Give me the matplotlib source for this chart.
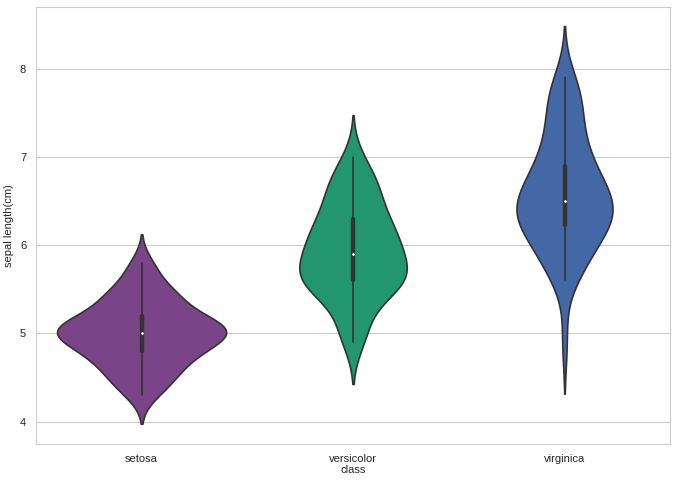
import pandas as pd
import matplotlib
matplotlib.use("Agg")
import matplotlib.pyplot as plt
import seaborn as sns

# -------- DATA (iris sepal length, cm) --------
setosa = [5.1, 4.9, 4.7, 4.6, 5.0, 5.4, 4.6, 5.0, 4.4, 4.9, 5.4, 4.8, 4.8, 4.3, 5.8, 5.7, 5.4,
          5.1, 5.7, 5.1, 5.4, 5.1, 4.6, 5.1, 4.8, 5.0, 5.0, 5.2, 5.2, 4.7, 4.8, 5.4, 5.2, 5.5,
          4.9, 5.0, 5.5, 4.9, 4.4, 5.1, 5.0, 4.5, 4.4, 5.0, 5.1, 4.8, 5.1, 4.6, 5.3, 5.0]
versicolor = [7.0, 6.4, 6.9, 5.5, 6.5, 5.7, 6.3, 4.9, 6.6, 5.2, 5.0, 5.9, 6.0, 6.1, 5.6, 6.7,
              5.6, 5.8, 6.2, 5.6, 5.9, 6.1, 6.3, 6.1, 6.4, 6.6, 6.8, 6.7, 6.0, 5.7, 5.5, 5.5,
              5.8, 6.0, 5.4, 6.0, 6.7, 6.3, 5.6, 5.5, 5.5, 6.1, 5.8, 5.0, 5.6, 5.7, 5.7, 6.2,
              5.1, 5.7]
virginica = [6.3, 5.8, 7.1, 6.3, 6.5, 7.6, 4.9, 7.3, 6.7, 7.2, 6.5, 6.4, 6.8, 5.7, 5.8, 6.4,
             6.5, 7.7, 7.7, 6.0, 6.9, 5.6, 7.7, 6.3, 6.7, 7.2, 6.2, 6.1, 6.4, 7.2, 7.4, 7.9,
             6.4, 6.3, 6.1, 7.7, 6.3, 6.4, 6.0, 6.9, 6.7, 6.9, 5.8, 6.8, 6.7, 6.7, 6.3, 6.5,
             6.2, 5.9]
classes = ["setosa", "versicolor", "virginica"]
colors = ["#7a4488", "#22976f", "#4468a6"]

df = pd.DataFrame({
    "class": ["setosa"] * len(setosa) + ["versicolor"] * len(versicolor) + ["virginica"] * len(virginica),
    "sepal length(cm)": setosa + versicolor + virginica,
})

# -------- VIOLIN PLOT --------
sns.set_style("whitegrid")
plt.rcParams["font.family"] = ["Liberation Sans", "DejaVu Sans"]

fig, ax = plt.subplots(figsize=(6.77, 4.84), dpi=100)
sns.violinplot(data=df, x="class", y="sepal length(cm)", hue="class", order=classes,
               palette=colors, saturation=1, legend=False, linewidth=1.2,
               linecolor="#333333", common_norm=True,
               inner_kws=dict(box_width=3.2, whis_width=1.2, marker=".",
                              markersize=2.5, color="#333333"),
               ax=ax)

ax.set_ylim(3.75, 8.7)
ax.set_yticks([4, 5, 6, 7, 8])
ax.tick_params(labelsize=8)
ax.set_xlabel("class", fontsize=8, labelpad=1)
ax.set_ylabel("sepal length(cm)", fontsize=8, labelpad=4)
for s in ax.spines.values():
    s.set_color("#cccccc")

plt.subplots_adjust(left=0.053, right=0.99, bottom=0.083, top=0.986)
plt.savefig("out.png")
